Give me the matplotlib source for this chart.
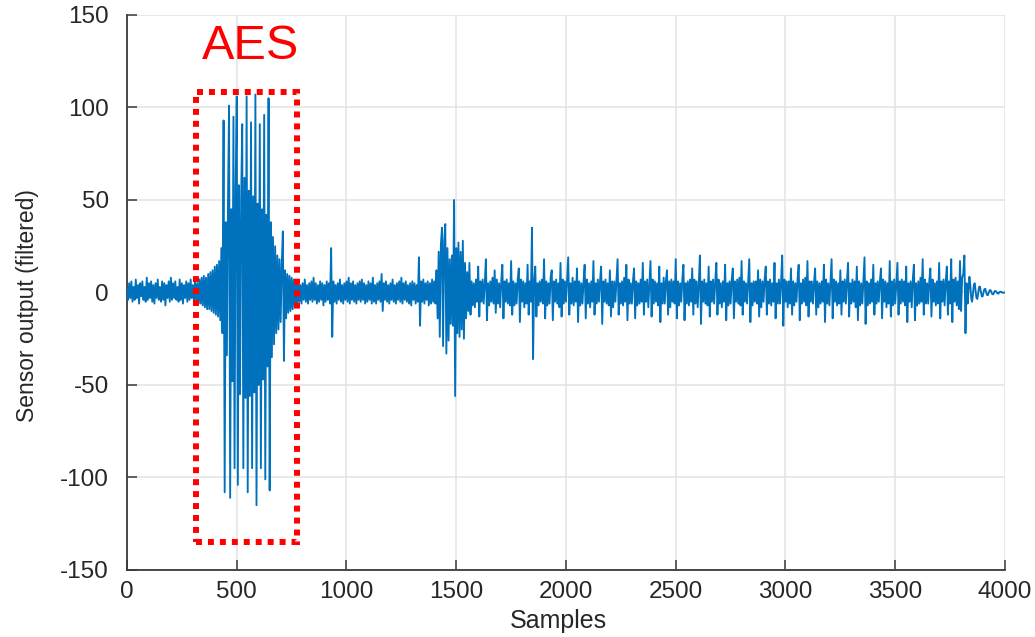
import numpy as np
import matplotlib
matplotlib.use("Agg")
import matplotlib.pyplot as plt
from matplotlib.patches import Rectangle

plt.rcParams['font.family'] = ['Liberation Sans', 'DejaVu Sans']
plt.rcParams['axes.unicode_minus'] = False

# ---- filtered sensor trace, stored piecewise: (first sample, step, values) ----
lead_in_start, lead_in_step = 0, 5
lead_in = [2, -4, 5, -3, 6, -5, 3, -4, 7, -3, 4, -6, 5, -2, 6, -4, 3, -5, 8, -4,
           5, -3, 6, -5, 4, -6, 5, -3, 7, -4, 3, -5, 6, -4, 5, -7, 4, -3, 6, -5,
           8, -4, 5, -3, 6, -4, 3, -5, 7, -4, 5, -6, 4, -3, 6, -5, 5, -4, 7, -3,
           4, -5, 6, -4]

onset_start, onset_step = 320, 5
onset = [5, -6, 7, -6, 8, -7, 9, -8, 8, -9, 10, -9, 11, -10, 12, -11, 14, -12, 15, -13,
         17, -15]

aes_start, aes_step = 430, 5
aes_burst = [24, -22, 93, -108, 38, -34, 48, 101, -111, 45, -48, 95, -95, 55, 106, -104,
             58, -55, 50, 91, -95, 62, -57, 106, -108, 55, -56, 92, -95, 52, -54, 107,
             -115, 48, -50, 91, -95, 45, -47, 96, -101, 42, -40, 105]

aes_tail_start, aes_tail_step = 650, 5
aes_tail = [-107, 38, -35, 30, -28, 25, -22, 20, -20, 18, -16, 15, 33, -37, 12, -14,
            10, -11, 9, -10, 8, -9, 7, -8, 6, -7]

gap_start, gap_step = 780, 5
quiet_gap = [6, -5, 4, -6, 5, -4, 7, -5, 4, -6,
             5, -4, 6, -5, 8, -4, 5, -6, 4, -5,
             6, -4, 5, -7, 4, -5, 6, -4, 5, -6,
             24, -24, 6, -5, 4, -6, 5, -4, 7, -5,
             4, -6, 5, -4, 6, -5, 8, -6, 5, -4,
             6, -5, 4, -6, 5, -4, 6, -5, 7, -4,
             5, -6, 4, -5, 6, -4, 5, -6, 8, -5,
             4, -6, 5, -4, 6, -5, 10, -10, 5, -4,
             6, -5, 4, -6, 5, -4, 7, -5, 4, -6,
             5, -4, 6, -5, 8, -6, 5, -4, 6, -5,
             4, -6, 5, -7, 6, -4, 5, -6, 4, -5,
             19, -18, 6, -5, 7, -6, 5, -4, 6, -7,
             5, -6, 7, -5]

burst2_start, burst2_step = 1400, 5
second_burst = [6, -6, 12, -14, 22, -24, 26, 35, -29, 28, 37, -33, 24, -26, 18, -17,
                20, -18, 50, -56, 24, -22, 27, -24, 22, -20, 28, -25, 16, -14, 11, -10]

periodic_start, periodic_step = 1560, 5
periodic_rows = [
    [16, -12, 6, -7, 5, -8, 7, -5, 14, -13, 6, -5, 7, -6, 5],
    [18, -15, 5, -7, 6, -5, 8, -6, 12, -11, 7, -6, 5, -8, 6],
    [15, -14, 6, -5, 7, -6, 5, -7, 17, -12, 6, -7, 5, -6, 7],
    [13, -16, 7, -5, 6, -8, 5, -6, 15, -12, 6, -5, 35, -36, 6],
    [14, -13, 5, -7, 6, -5, 7, -6, 18, -14, 6, -7, 5, -6, 8],
    [12, -15, 6, -5, 7, -6, 5, -8, 16, -13, 7, -6, 6, -5, 7],
    [19, -12, 5, -6, 8, -7, 6, -5, 13, -16, 6, -7, 5, -6, 6],
    [15, -14, 7, -6, 5, -8, 6, -5, 17, -12, 5, -6, 7, -5, 6],
    [14, -17, 6, -5, 7, -6, 5, -7, 12, -13, 6, -8, 6, -5, 7],
    [18, -12, 5, -6, 6, -7, 8, -5, 15, -15, 7, -6, 5, -6, 6],
    [13, -14, 6, -7, 5, -6, 7, -5, 16, -12, 6, -5, 7, -8, 5],
    [17, -13, 7, -6, 6, -5, 5, -7, 14, -16, 5, -6, 8, -6, 6],
    [12, -12, 6, -8, 7, -5, 6, -6, 18, -14, 6, -7, 5, -5, 7],
    [15, -15, 5, -6, 6, -7, 7, -5, 13, -12, 7, -6, 6, -8, 5],
    [20, -17, 6, -5, 7, -6, 5, -7, 14, -13, 6, -5, 7, -6, 6],
    [16, -12, 7, -6, 5, -8, 6, -5, 15, -15, 5, -7, 6, -6, 7],
    [13, -14, 6, -5, 7, -6, 8, -7, 17, -12, 6, -5, 5, -6, 6],
    [18, -16, 5, -7, 6, -5, 6, -6, 12, -13, 7, -8, 6, -5, 7],
    [14, -12, 6, -6, 7, -7, 5, -5, 16, -14, 5, -6, 7, -6, 6],
    [20, -18, 7, -5, 6, -8, 6, -6, 13, -12, 6, -7, 5, -5, 7],
    [15, -15, 5, -6, 7, -5, 8, -7, 17, -13, 6, -5, 6, -6, 5],
    [13, -12, 6, -8, 5, -6, 6, -5, 15, -16, 7, -6, 5, -7, 6],
    [18, -14, 7, -5, 6, -7, 5, -6, 12, -12, 6, -5, 7, -6, 6],
    [16, -13, 5, -6, 7, -5, 6, -8, 14, -15, 6, -7, 5, -6, 7],
    [19, -17, 6, -7, 5, -6, 7, -5, 15, -12, 5, -6, 6, -5, 6],
    [13, -14, 7, -5, 6, -8, 5, -6, 17, -13, 6, -7, 7, -6, 5],
    [16, -12, 6, -6, 7, -5, 6, -7, 14, -16, 5, -5, 6, -8, 7],
    [15, -15, 5, -7, 6, -6, 8, -5, 18, -12, 7, -6, 5, -6, 6],
    [13, -13, 7, -5, 5, -7, 6, -6, 16, -14, 6, -5, 7, -7, 6],
    [14, -12, 6, -6, 18, -16, 7, -5, 8, -7, 6, -9, 17, -10, 8],
    [10, 20, -22, 5],
]

ring_start, ring_step = 3830, 4
ringdown = [-6, 2, 8.5, 4, -3, -5, -1, 4, 5, 1, -3, -3.5, -0.5, 3, 3.2, 0.5,
            -2, -2.2, -0.3, 1.8, 2, 0.3, -1.3, -1.5, -0.2, 1.2, 1.3, 0.2, -0.9, -1,
            -0.1, 0.8, 0.8, 0.1, -0.5, -0.6, 0, 0.4, 0.4, 0.1, -0.2, -0.2, 0]

periodic = [v for row in periodic_rows for v in row]

segments = [
    (lead_in_start, lead_in_step, lead_in),
    (onset_start, onset_step, onset),
    (aes_start, aes_step, aes_burst),
    (aes_tail_start, aes_tail_step, aes_tail),
    (gap_start, gap_step, quiet_gap),
    (burst2_start, burst2_step, second_burst),
    (periodic_start, periodic_step, periodic),
    (ring_start, ring_step, ringdown),
]
samples = np.concatenate([s0 + step * np.arange(len(v)) for s0, step, v in segments])
signal = np.concatenate([np.asarray(v, dtype=float) for _, _, v in segments])

# AES window annotation
aes_box = (314, 773, -135, 108.5)   # x0, x1, y0, y1
aes_label = "AES"

xticks = [0, 500, 1000, 1500, 2000, 2500, 3000, 3500, 4000]
yticks = [-150, -100, -50, 0, 50, 100, 150]

# ---- figure ----
fig = plt.figure(figsize=(10.35, 6.37), dpi=100)
ax = fig.add_axes([0.1227, 0.1052, 0.8483, 0.8713])

ax.plot(samples, signal, color='#0072BD', lw=1.35, zorder=3)

x0, x1, y0, y1 = aes_box
ax.add_patch(Rectangle((x0, y0), x1 - x0, y1 - y0, fill=False, ec='#ff0000',
                       lw=4.3, linestyle=(0, (1, 1)), zorder=4, clip_on=False))
ax.text((x0 + x1) / 2 + 20, 133, aes_label, color='#ff0000', fontsize=35,
        ha='center', va='center', zorder=5)

ax.set_xlim(0, 4000)
ax.set_ylim(-150, 150)
ax.set_xticks(xticks)
ax.set_yticks(yticks)
ax.grid(True, color='#e3e3e3', lw=1.1, zorder=0)
ax.set_axisbelow(True)

for side in ('top', 'right'):
    ax.spines[side].set_visible(False)
for side in ('left', 'bottom'):
    ax.spines[side].set_color('#3a3a3a')
    ax.spines[side].set_linewidth(1.3)

ax.tick_params(axis='both', direction='in', length=7, width=1.1, color='#3a3a3a',
               labelcolor='#262626', labelsize=17.5)
ax.tick_params(axis='y', pad=13)
ax.tick_params(axis='x', pad=8)

ax.set_xlabel("Samples", fontsize=18, color='#262626')
ax.set_ylabel("Sensor output (filtered)", fontsize=16.5, color='#262626')
ax.xaxis.set_label_coords(0.491, -0.092)
ax.xaxis.label.set_va('center')
ax.yaxis.set_label_coords(-0.1128, 0.4757)
ax.yaxis.label.set_va('center')
ax.yaxis.label.set_ha('center')

fig.savefig("out.png", dpi=100)
